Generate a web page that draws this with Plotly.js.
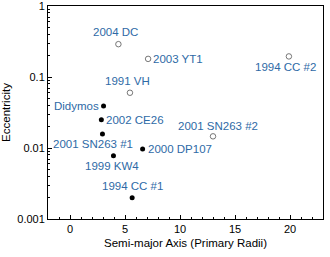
<!DOCTYPE html>
<html><head><meta charset="utf-8">
<script src="https://cdn.plot.ly/plotly-3.0.1.min.js"></script>
<style>html,body{margin:0;padding:0;background:#fff}</style>
</head><body><div id="chart" style="width:330px;height:257px"></div>
<script>
// Data
const names = ["2004 DC","2003 YT1","1994 CC #2","1991 VH","Didymos","2002 CE26","2001 SN263 #1","1999 KW4","2000 DP107","1994 CC #1","2001 SN263 #2"];
const semiMajor = [4.4, 7.1, 19.9, 5.45, 3.05, 2.85, 2.95, 3.95, 6.6, 5.65, 13.0];
const eccentricity = [0.29, 0.18, 0.195, 0.06, 0.039, 0.025, 0.0157, 0.0078, 0.0097, 0.002, 0.0146];
const filled = [false, false, false, false, true, true, true, true, true, true, false];
const xTickVals = [0, 5, 10, 15, 20];
const yTickVals = [0.001, 0.01, 0.1, 1];
const yTickText = ["0.001", "0.01", "0.1", "1"];

// minor log ticks (2..9 in each decade)
const yMinor = [];
for (let d = -3; d < 0; d++) for (let m = 2; m <= 9; m++) yMinor.push(m * Math.pow(10, d));

// label placement styles
const labelPos = {
  "2004 DC": {xa:"center", ya:"bottom", dx:-3, dy:4},
  "2003 YT1": {xa:"left", ya:"middle", dx:3, dy:0},
  "1994 CC #2": {xa:"center", ya:"top", dx:-3, dy:-3},
  "1991 VH": {xa:"center", ya:"bottom", dx:-2, dy:4},
  "Didymos": {xa:"right", ya:"middle", dx:-3, dy:0},
  "2002 CE26": {xa:"left", ya:"middle", dx:3, dy:0},
  "2001 SN263 #1": {xa:"center", ya:"top", dx:-9, dy:-2},
  "1999 KW4": {xa:"center", ya:"top", dx:-1, dy:-2},
  "2000 DP107": {xa:"left", ya:"middle", dx:3, dy:0},
  "1994 CC #1": {xa:"center", ya:"bottom", dx:0, dy:4},
  "2001 SN263 #2": {xa:"center", ya:"bottom", dx:5, dy:2}
};

const openX = [], openY = [], fillX = [], fillY = [];
semiMajor.forEach((x, i) => {
  if (filled[i]) { fillX.push(x); fillY.push(eccentricity[i]); }
  else { openX.push(x); openY.push(eccentricity[i]); }
});

const traces = [
  {x: fillX, y: fillY, mode: "markers", type: "scatter",
   marker: {color: "#000", size: 5}, hoverinfo: "skip"},
  {x: openX, y: openY, mode: "markers", type: "scatter",
   marker: {color: "rgba(0,0,0,0)", size: 5.5, line: {color: "#555", width: 0.8}}, hoverinfo: "skip"}
];

const annotations = names.map((n, i) => {
  const p = labelPos[n];
  return {x: semiMajor[i], y: Math.log10(eccentricity[i]), xref: "x", yref: "y",
    text: n, showarrow: false, xanchor: p.xa, yanchor: p.ya, xshift: p.dx, yshift: p.dy,
    font: {family: "Liberation Sans, Arial, sans-serif", size: 11.5, color: "#2e6aa6"}};
});

const layout = {
  width: 330, height: 257,
  margin: {l: 48, r: 7, t: 6, b: 38},
  paper_bgcolor: "#fff", plot_bgcolor: "#fff",
  showlegend: false,
  font: {family: "Liberation Sans, Arial, sans-serif", size: 11, color: "#000"},
  xaxis: {range: [-2, 23], tickvals: xTickVals, ticks: "inside", ticklen: 4, tickcolor: "#000",
    showgrid: false, zeroline: false, showline: true, linecolor: "#000", linewidth: 1, mirror: true,
    minor: {dtick: 1, ticks: "inside", ticklen: 2, tickcolor: "#000", showgrid: false},
    title: {text: "Semi-major Axis (Primary Radii)", font: {size: 11.5}, standoff: 4},
    tickfont: {size: 11}, ticklabeloverflow: "allow"},
  yaxis: {type: "log", range: [-3, 0], tickvals: yTickVals, ticktext: yTickText,
    ticks: "inside", ticklen: 4, tickcolor: "#000",
    showgrid: false, zeroline: false, showline: true, linecolor: "#000", linewidth: 1, mirror: true,
    minor: {tickvals: yMinor, ticks: "inside", ticklen: 2, tickcolor: "#000", showgrid: false},
    title: {text: "Eccentricity", font: {size: 11.5}, standoff: 4},
    tickfont: {size: 11}, ticklabeloverflow: "allow"},
  annotations: annotations
};

Plotly.newPlot("chart", traces, layout, {staticPlot: true, displayModeBar: false});
</script></body></html>
